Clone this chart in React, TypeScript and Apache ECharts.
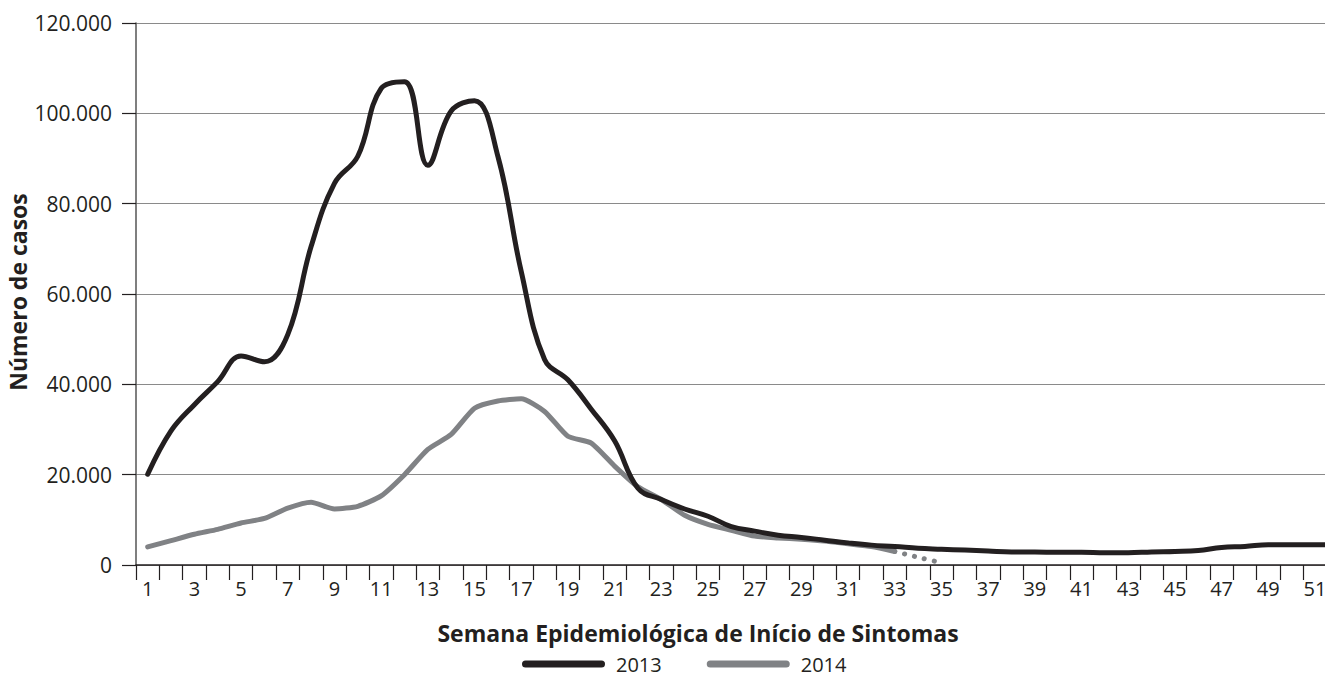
import React, { useEffect, useRef } from "react";
import * as echarts from "echarts";

const weeks: string[] = Array.from({ length: 52 }, (_, i) => String(i + 1));

const yTicks: number[] = [0, 20000, 40000, 60000, 80000, 100000, 120000];

const cases2013: number[] = [
  20100, 29700, 35500, 40600, 46300, 45000, 51000, 70500, 84500, 90500,
  105500, 107000, 88500, 100500, 102800, 90500, 65000, 45500, 41000, 34500,
  27500, 17000, 14500, 12400, 10800, 8500, 7500, 6600, 6100, 5500,
  4900, 4400, 4100, 3700, 3500, 3300, 3100, 2900, 2900, 2800,
  2800, 2700, 2700, 2900, 3000, 3200, 3900, 4100, 4500, 4500,
  4500, 4500,
];

const cases2014: (number | null)[] = [
  4000, 5400, 6800, 7900, 9300, 10300, 12600, 13900, 12400, 13000,
  15300, 20000, 25600, 28900, 34700, 36300, 36800, 34000, 28500, 27000,
  21900, 17300, 14500, 11000, 9000, 7700, 6400, 6000, 5700, 5300,
  4700, 4100, 3000,
];

// incomplete weeks (dotted), starting at week 33
const cases2014Partial: (number | null)[] = [
  ...Array(32).fill(null),
  3000, 1700, 500,
];

const BLACK = "#231f20";
const GRAY = "#808285";
const FONT = "Open Sans";

function fmt(v: number): string {
  const s = String(Math.round(v));
  return s.replace(/\B(?=(\d{3})+(?!\d))/g, ".");
}

const legendIcon =
  "path://M3.5,0 H79.5 A3.5,3.5 0 0 1 79.5,7 H3.5 A3.5,3.5 0 0 1 3.5,0 Z";

export default function App() {
  const ref = useRef<HTMLDivElement>(null);

  useEffect(() => {
    if (!ref.current) return;
    const chart = echarts.init(ref.current, null, { renderer: "svg" });
    chart.setOption({
      animation: false,
      backgroundColor: "#ffffff",
      textStyle: { fontFamily: FONT },
      grid: { left: 136, top: 23, width: 1214, height: 542, containLabel: false },
      xAxis: {
        type: "category",
        data: weeks,
        boundaryGap: true,
        axisLine: { show: true, lineStyle: { color: "#231f20", width: 1.5 } },
        axisTick: {
          show: true,
          interval: 0,
          length: 15,
          lineStyle: { color: "#231f20", width: 1.2 },
        },
        axisLabel: {
          interval: 1,
          margin: 13,
          fontSize: 20,
          color: "#231f20",
          fontFamily: FONT,
        },
        splitLine: { show: false },
      },
      yAxis: {
        type: "value",
        min: 0,
        max: 120000,
        interval: 20000,
        axisLine: { show: true, lineStyle: { color: "#555555", width: 1.5 } },
        axisTick: {
          show: true,
          length: 14,
          lineStyle: { color: "#231f20", width: 1.2 },
        },
        axisLabel: {
          margin: 24,
          fontSize: 21,
          color: "#231f20",
          fontFamily: FONT,
          formatter: (v: number) => (yTicks.includes(v) ? fmt(v) : ""),
        },
        splitLine: { show: true, lineStyle: { color: "#8a8a8a", width: 1 } },
      },
      legend: {
        data: ["2013", "2014"],
        left: 517,
        top: 649,
        itemWidth: 83,
        itemHeight: 7,
        itemGap: 45,
        icon: legendIcon,
        textStyle: {
          fontSize: 20,
          lineHeight: 20,
          color: "#231f20",
          fontFamily: FONT,
          padding: [0, 0, 0, 6],
        },
      },
      graphic: [
        {
          type: "text",
          x: 698,
          y: 633,
          style: {
            text: "Semana Epidemiológica de Início de Sintomas",
            fontFamily: FONT,
            fontWeight: "bold",
            fontSize: 23,
            fill: "#231f20",
            align: "center",
            verticalAlign: "middle",
          },
        },
        {
          type: "text",
          x: 18,
          y: 292,
          rotation: Math.PI / 2,
          style: {
            text: "Número de casos",
            fontFamily: FONT,
            fontWeight: "bold",
            fontSize: 23,
            fill: "#231f20",
            align: "center",
            verticalAlign: "middle",
          },
        },
      ],
      series: [
        {
          name: "2014",
          type: "line",
          data: cases2014,
          smooth: 0.2,
          symbol: "none",
          itemStyle: { color: GRAY },
          lineStyle: { color: GRAY, width: 5, cap: "round", join: "round" },
          z: 2,
        },
        {
          name: "2014p",
          type: "line",
          data: cases2014Partial,
          smooth: 0.2,
          symbol: "none",
          itemStyle: { color: GRAY },
          lineStyle: { color: GRAY, width: 5, type: [0.1, 10], cap: "round" },
          z: 2,
        },
        {
          name: "2013",
          type: "line",
          data: cases2013,
          smooth: 0.4,
          symbol: "none",
          itemStyle: { color: BLACK },
          lineStyle: { color: BLACK, width: 5, cap: "round", join: "round" },
          z: 3,
        },
      ],
    });
    return () => chart.dispose();
  }, []);

  return (
    <div
      style={{
        position: "absolute",
        left: 0,
        top: 0,
        width: 1325,
        height: 679,
        overflow: "hidden",
        background: "#fff",
      }}
    >
      <div ref={ref} style={{ width: 1360, height: 679 }} />
    </div>
  );
}
